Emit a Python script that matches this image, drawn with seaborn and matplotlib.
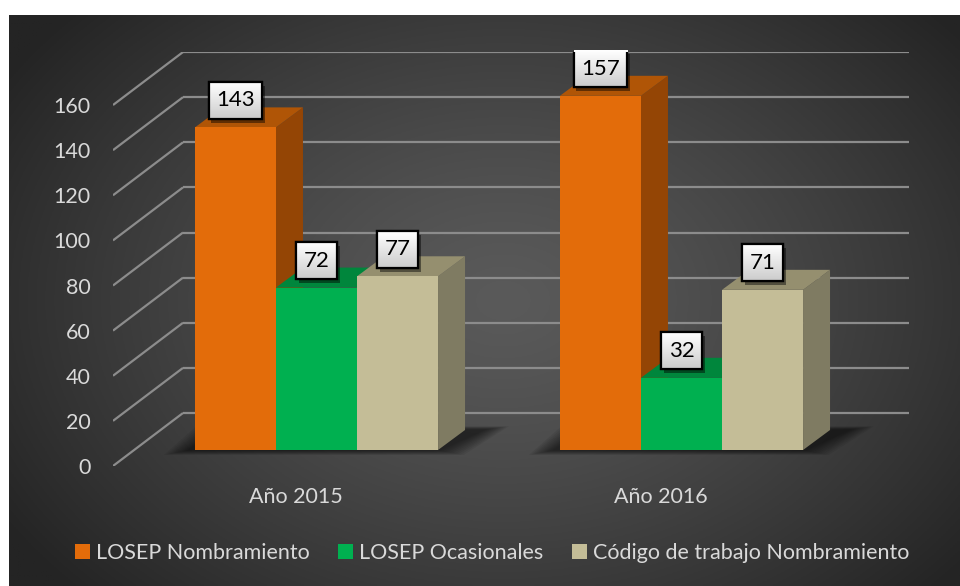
import numpy as np
import pandas as pd
import matplotlib.pyplot as plt
import matplotlib.patheffects as pe
from matplotlib.patches import Polygon, Rectangle
import seaborn as sns

# ── Data ──────────────────────────────────────────────────────────
years = ['Año 2015', 'Año 2016']
series = ['LOSEP Nombramiento', 'LOSEP Ocasionales', 'Código de trabajo Nombramiento']
losep_nombramiento = [143, 157]
losep_ocasionales = [72, 32]
codigo_trabajo = [77, 71]
y_ticks = [0, 20, 40, 60, 80, 100, 120, 140, 160]

front_colors = ['#E36C0A', '#00B050', '#C4BD97']
side_colors = ['#944505', '#007A38', '#7F7B62']
top_colors = ['#B05506', '#00863C', '#958F6F']
TEXT = '#D9D9D9'
GRID = '#8C8C8C'

df = pd.DataFrame({
    'year': years * 3,
    'serie': [s for s in series for _ in years],
    'valor': losep_nombramiento + losep_ocasionales + codigo_trabajo,
})

sns.set_theme(style='dark')
plt.rcParams['font.family'] = ['Lato', 'DejaVu Sans']

# 3D offsets in data units (bar plane is the reference)
PX_X = 365.0      # pixels per category
PX_Y = 2.256      # pixels per unit of value
DEPTH_X, DEPTH_Y = 27 / PX_X, 20 / PX_Y      # bar depth
WALL_X, WALL_Y = 49 / PX_X, 37 / PX_Y        # back wall
FRONT_X, FRONT_Y = -21 / PX_X, -16 / PX_Y    # front edge of floor

fig = plt.figure(figsize=(9.6, 5.86), dpi=100)
fig.patch.set_facecolor('white')

# background panel with a soft radial gradient
bg = fig.add_axes([9 / 960, 0, 951 / 960, 571 / 586], zorder=-10)
gx, gy = np.meshgrid(np.linspace(0, 1, 400), np.linspace(0, 1, 240))
r = np.sqrt(((gx - 0.52) / 0.62) ** 2 + ((gy - 0.5) / 0.75) ** 2)
shade = 90 - 54 * np.clip(r, 0, 1) ** 1.3
bg.imshow(np.dstack([shade] * 3) / 255, aspect='auto', extent=[0, 1, 0, 1])
bg.set_axis_off()

ax = fig.add_axes([113 / 960, 120 / 586, 800 / 960, 414 / 586])
ax.set_facecolor('none')

sns.barplot(data=df, x='year', y='valor', hue='serie', hue_order=series,
            palette=front_colors, saturation=1, width=0.666, linewidth=0,
            ax=ax)

handles, labels = ax.get_legend_handles_labels()
ax.get_legend().remove()

x_left, x_right = -0.5, 1.49
ax.set_xlim(-0.5 + FRONT_X, 1.5 + WALL_X)
ax.set_ylim(FRONT_Y, (450 - 52) / PX_Y)

# walls: diagonal lines on the left side, horizontal lines on the back
for v in y_ticks:
    ax.plot([x_left + FRONT_X, x_left + WALL_X], [v + FRONT_Y, v + WALL_Y],
            color=GRID, lw=1.6, zorder=1, solid_capstyle='butt')
    ax.plot([x_left + WALL_X, x_right + WALL_X], [v + WALL_Y, v + WALL_Y],
            color=GRID, lw=1.6, zorder=1, solid_capstyle='butt')

# bars with their series index, ordered left to right
bars = []
for i, cont in enumerate(ax.containers[:len(series)]):
    for p in cont.patches:
        bars.append((p, i))
bars.sort(key=lambda b: b[0].get_x())

# soft floor shadows under each group
for g in range(len(years)):
    grp = [b[0] for b in bars[g * 3:(g + 1) * 3]]
    x0 = grp[0].get_x()
    x1 = grp[-1].get_x() + grp[-1].get_width()
    for k in range(10):
        e = 0.007 * (10 - k)
        ey = 0.55 * (10 - k)
        ax.add_patch(Polygon([(x0 - e - 0.015, -ey * 0.4), (x1 + e, -ey * 0.4),
                              (x1 + DEPTH_X + e + 0.05, DEPTH_Y + ey * 0.3),
                              (x0 + DEPTH_X - e, DEPTH_Y + ey * 0.3)],
                             closed=True, fc='black', ec='none', alpha=0.065,
                             zorder=2))

# 3D side and top faces
for n, (p, c) in enumerate(bars):
    x0, w, h = p.get_x(), p.get_width(), p.get_height()
    x1 = x0 + w
    z = 5 + n * 3
    ax.add_patch(Polygon([(x1, 0), (x1 + DEPTH_X, DEPTH_Y),
                          (x1 + DEPTH_X, h + DEPTH_Y), (x1, h)],
                         closed=True, fc=side_colors[c], ec='none', zorder=z))
    ax.add_patch(Polygon([(x0, h), (x1, h), (x1 + DEPTH_X, h + DEPTH_Y),
                          (x0 + DEPTH_X, h + DEPTH_Y)],
                         closed=True, fc=top_colors[c], ec='none', zorder=z + 1))
    p.set_zorder(z + 2)

# axes text
ax.set_yticks([v + FRONT_Y for v in y_ticks], [str(v) for v in y_ticks])
ax.set_xticks([i + FRONT_X for i in range(len(years))], years)
ax.tick_params(axis='y', length=0, pad=16, labelsize=15.5, labelcolor=TEXT)
ax.tick_params(axis='x', length=0, pad=15, labelsize=15.5, labelcolor=TEXT)
ax.set_xlabel('')
ax.set_ylabel('')
ax.grid(False)
for s in ax.spines.values():
    s.set_visible(False)

# data labels: text first, then a gradient box sized to it
texts = []
for p, c in bars:
    h = p.get_height()
    t = ax.text(p.get_x() + p.get_width() / 2, h + 27 / PX_Y, f'{h:.0f}',
                ha='center', va='center', fontsize=16, color='black', zorder=62)
    texts.append(t)

fig.canvas.draw()
inv = ax.transData.inverted()
grad = np.linspace(1.0, 0.80, 50)[:, None] * np.ones((1, 4))
for t in texts:
    bb = t.get_window_extent()
    cx, cy = ax.transData.transform(t.get_position())
    bw, bh = bb.width + 15, 37
    (dx0, dy0) = inv.transform((cx - bw / 2, cy - bh / 2))
    (dx1, dy1) = inv.transform((cx + bw / 2, cy + bh / 2))
    box = Rectangle((dx0, dy0), dx1 - dx0, dy1 - dy0, fc='#E0E0E0', ec='black',
                    lw=1.6, zorder=60)
    box.set_path_effects([pe.withSimplePatchShadow(offset=(2, -3), shadow_rgbFace='black',
                                                   alpha=0.45)])
    ax.add_patch(box)
    im = ax.imshow(np.dstack([grad] * 3), extent=[dx0, dx1, dy0, dy1], aspect='auto',
                   zorder=61, interpolation='bilinear')
    im.set_clip_path(box)
    ax.add_patch(Rectangle((dx0, dy0), dx1 - dx0, dy1 - dy0, fc='none', ec='black',
                           lw=1.6, zorder=61.5))

ax.set_xlim(-0.5 + FRONT_X, 1.5 + WALL_X)
ax.set_ylim(FRONT_Y, (450 - 52) / PX_Y)

fig.legend(handles, labels, loc='center', bbox_to_anchor=(492 / 960, 1 - 553 / 586),
           ncol=3, frameon=False, fontsize=15.5, labelcolor=TEXT,
           handlelength=0.7, handleheight=0.7, handletextpad=0.3,
           columnspacing=1.3)

fig.savefig('out.png', dpi=100)
